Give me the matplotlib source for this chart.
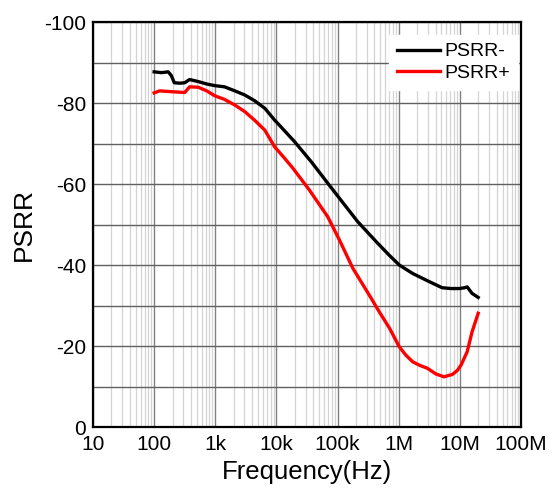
import numpy as np
import matplotlib
matplotlib.use("Agg")
import matplotlib.pyplot as plt
from matplotlib.ticker import LogLocator, FixedLocator, NullFormatter

plt.rcParams["font.family"] = ["Liberation Sans", "DejaVu Sans"]
plt.rcParams["axes.unicode_minus"] = False

# log10(frequency) and PSRR (dB)
neg_logf = [2.00, 2.12, 2.23, 2.28, 2.33, 2.42, 2.50, 2.58, 2.72, 2.86, 2.99, 3.15, 3.32,
            3.48, 3.64, 3.81, 3.97, 4.13, 4.30, 4.57, 4.84, 5.03, 5.33, 5.63, 5.84, 6.01,
            6.23, 6.50, 6.71, 6.85, 6.99, 7.08, 7.12, 7.20, 7.30]
neg_psrr = [-87.7, -87.5, -87.7, -86.8, -85.0, -84.9, -85.0, -85.8, -85.3, -84.7, -84.3,
            -84.0, -83.0, -82.0, -80.6, -78.7, -75.8, -73.2, -70.4, -65.5, -60.2, -56.5,
            -50.7, -45.8, -42.5, -40.0, -37.9, -35.9, -34.4, -34.2, -34.2, -34.4, -34.6,
            -33.0, -32.0]

pos_logf = [2.00, 2.09, 2.28, 2.50, 2.58, 2.72, 2.86, 2.99, 3.15, 3.32, 3.48, 3.64,
            3.81, 3.97, 4.12, 4.27, 4.54, 4.84, 5.03, 5.25, 5.55, 5.68, 5.85, 6.01, 6.12,
            6.23, 6.35, 6.47, 6.61, 6.74, 6.88, 6.96, 7.02, 7.12, 7.20, 7.30]
pos_psrr = [-82.5, -83.0, -82.8, -82.6, -84.0, -83.9, -83.0, -81.8, -80.9, -79.5, -77.9,
            -75.8, -73.3, -69.2, -66.6, -63.9, -58.5, -51.9, -46.2, -39.2, -31.8, -28.5,
            -24.4, -19.8, -17.7, -16.1, -15.2, -14.5, -13.1, -12.4, -13.0, -14.0, -15.3,
            -18.6, -23.5, -28.1]

xticks = [1e1, 1e2, 1e3, 1e4, 1e5, 1e6, 1e7, 1e8]
xlabels = ["10", "100", "1k", "10k", "100k", "1M", "10M", "100M"]
yticks = [-100, -80, -60, -40, -20, 0]

fig = plt.figure(figsize=(5.52, 4.96), dpi=100)
ax = fig.add_axes([0.1685, 0.139, 0.7753, 0.8166])

ax.plot(10 ** np.array(neg_logf), neg_psrr, color="black", lw=2.4, label="PSRR-",
        solid_joinstyle="round")
ax.plot(10 ** np.array(pos_logf), pos_psrr, color="#ff0000", lw=2.4, label="PSRR+",
        solid_joinstyle="round")

ax.set_xscale("log")
ax.set_xlim(1e1, 1e8)
ax.set_ylim(0, -100)

ax.xaxis.set_major_locator(FixedLocator(xticks))
ax.set_xticklabels(xlabels)
ax.xaxis.set_minor_locator(LogLocator(base=10, subs=np.arange(2, 10), numticks=20))
ax.xaxis.set_minor_formatter(NullFormatter())
ax.set_yticks(yticks)
ax.yaxis.set_minor_locator(FixedLocator(np.arange(-90, 0, 20)))

ax.grid(which="major", axis="x", color="#808080", lw=1.0)
ax.grid(which="minor", axis="x", color="#d4d4d4", lw=0.9)
ax.grid(which="both", axis="y", color="#606060", lw=1.0)

ax.tick_params(which="both", length=0, labelsize=15)
ax.tick_params(axis="x", pad=6)
ax.tick_params(axis="y", pad=5)
for s in ax.spines.values():
    s.set_linewidth(1.6)
    s.set_color("black")

ax.set_xlabel("Frequency(Hz)", fontsize=18.5, labelpad=4)
ax.set_ylabel("PSRR", fontsize=19, labelpad=6)

leg = ax.legend(loc="upper right", bbox_to_anchor=(1.0, 0.975), fontsize=14,
                frameon=True, fancybox=False, edgecolor="white", framealpha=1,
                handlelength=2.2, borderaxespad=0.15, labelspacing=0.2,
                handletextpad=0.25, borderpad=0.4)

fig.savefig("out.png", dpi=100)
